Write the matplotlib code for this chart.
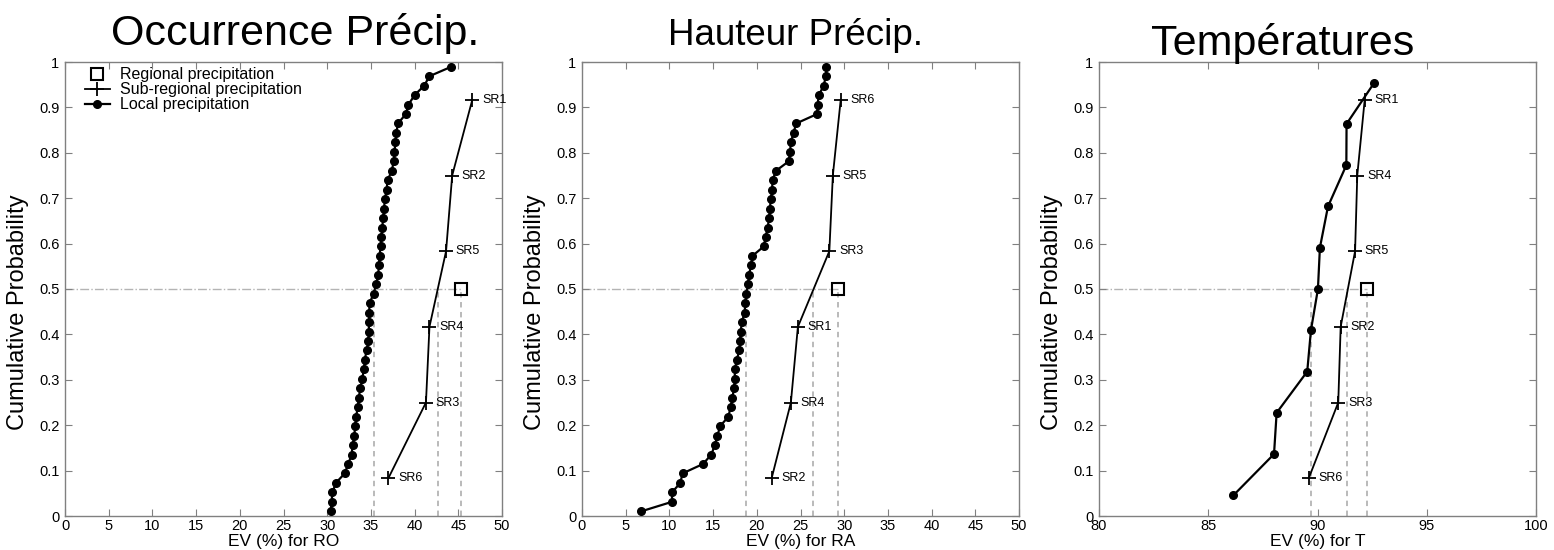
import numpy as np
import matplotlib
matplotlib.use("Agg")
import matplotlib.pyplot as plt

plt.rcParams['font.family'] = ['Liberation Sans', 'DejaVu Sans']

# Occurrence (RO)
ro_local = [30.4, 30.5, 30.6, 31.0, 32.0, 32.4, 32.8, 32.9, 33.1, 33.2, 33.3, 33.5,
            33.6, 33.8, 34.0, 34.2, 34.3, 34.5, 34.7, 34.75, 34.8, 34.8, 34.85, 35.3,
            35.6, 35.85, 35.9, 36.0, 36.1, 36.2, 36.3, 36.4, 36.5, 36.6, 36.8, 36.9,
            37.4, 37.6, 37.7, 37.8, 37.9, 38.1, 39.0, 39.3, 40.0, 41.1, 41.7, 44.2]
ro_sub_names = ["SR6", "SR3", "SR4", "SR5", "SR2", "SR1"]
ro_sub = [37.0, 41.3, 41.7, 43.6, 44.3, 46.6]
ro_regional = 45.35
ro_medians = [35.4, 42.65]

# Hauteur (RA)
ra_local = [6.8, 10.3, 10.3, 11.25, 11.5, 13.85, 14.8, 15.2, 15.5, 15.8, 16.75, 17.0,
            17.2, 17.4, 17.47, 17.5, 17.7, 18.0, 18.08, 18.15, 18.3, 18.6, 18.7, 18.8,
            19.0, 19.1, 19.35, 19.5, 20.8, 21.0, 21.25, 21.4, 21.5, 21.6, 21.75, 21.8,
            22.2, 23.65, 23.8, 23.9, 24.2, 24.5, 26.9, 26.95, 27.1, 27.65, 27.9, 27.95]
ra_sub_names = ["SR2", "SR4", "SR1", "SR3", "SR5", "SR6"]
ra_sub = [21.7, 23.9, 24.7, 28.3, 28.7, 29.6]
ra_regional = 29.25
ra_medians = [18.8, 26.45]

# Temperatures (T)
t_local = [86.15, 88.01, 88.13, 89.53, 89.70, 90.02, 90.11, 90.48, 91.32, 91.33, 92.6]
t_sub_names = ["SR6", "SR3", "SR2", "SR5", "SR4", "SR1"]
t_sub = [89.6, 90.95, 91.06, 91.72, 91.82, 92.16]
t_regional = 92.25
t_medians = [89.7, 91.36]

titles = ["Occurrence Précip.", "Hauteur Précip.", "Températures"]
xlabels = ["EV (%) for RO", "EV (%) for RA", "EV (%) for T"]
yticks = [0, 0.1, 0.2, 0.3, 0.4, 0.5, 0.6, 0.7, 0.8, 0.9, 1]
ytick_labels = ["0", "0.1", "0.2", "0.3", "0.4", "0.5", "0.6", "0.7", "0.8", "0.9", "1"]

frame_col = '#808080'
ref_col = '#b4b4b4'


def cum_prob(values):
    # empirical cumulative probability of the sorted values
    n = len(values)
    return (np.arange(n) + 0.5) / n


def draw_panel(ax, local, names, sub, regional, medians, xlim, xticks, xlabel):
    # reference lines at p = 0.5
    ax.plot([xlim[0], regional], [0.5, 0.5], color=ref_col, lw=1, ls='-.', zorder=1)
    for v in medians + [regional]:
        ax.plot([v, v], [0, 0.5], color=ref_col, lw=1.3, ls=(0, (3, 2.5)), zorder=1)

    ax.plot(regional, 0.5, 's', ms=8, mfc='none', mec='k', mew=1.5, zorder=4,
            label='Regional precipitation')
    p_sub = cum_prob(sub)
    ax.plot(sub, p_sub, '-', color='k', lw=1.3, marker='+', ms=10, mew=1.3, zorder=3,
            label='Sub-regional precipitation')
    ax.plot(local, cum_prob(local), '-', color='k', lw=1.6, marker='o', ms=5.5, zorder=3,
            label='Local precipitation')
    for name, x, p in zip(names, sub, p_sub):
        ax.annotate(name, (x, p), xytext=(7, 0), textcoords='offset points',
                    va='center', ha='left', fontsize=9)

    ax.set_xlim(xlim)
    ax.set_ylim(0, 1)
    ax.set_xticks(xticks)
    ax.set_yticks(yticks)
    ax.set_yticklabels(ytick_labels)
    ax.tick_params(direction='in', top=True, right=True, length=5, width=0.8,
                   color=frame_col, labelsize=10.5)
    ax.tick_params(axis='x', pad=2)
    ax.tick_params(axis='y', pad=4)
    for s in ax.spines.values():
        s.set_color(frame_col)
        s.set_linewidth(1)
    ax.set_xlabel(xlabel, fontsize=12.5)
    ax.xaxis.label.set_va('baseline')
    ax.xaxis.set_label_coords(0.5, -30 / 454)
    ax.set_ylabel('Cumulative Probability', fontsize=17)
    ax.yaxis.set_label_coords(-0.083, 0.45)


fig = plt.figure(figsize=(15.54, 5.5), dpi=100)
W, H = 1554.0, 550.0
lefts = [65, 582, 1099]
axes = [fig.add_axes([l / W, 34 / H, 437 / W, 454 / H]) for l in lefts]

draw_panel(axes[0], ro_local, ro_sub_names, ro_sub, ro_regional, ro_medians,
           (0, 50), range(0, 51, 5), xlabels[0])
draw_panel(axes[1], ra_local, ra_sub_names, ra_sub, ra_regional, ra_medians,
           (0, 50), range(0, 51, 5), xlabels[1])
draw_panel(axes[2], t_local, t_sub_names, t_sub, t_regional, t_medians,
           (80, 100), range(80, 101, 5), xlabels[2])

axes[0].legend(loc='upper left', frameon=False, fontsize=11.5, labelspacing=0,
               handlelength=1.6, handletextpad=0.6, borderpad=0, borderaxespad=0,
               bbox_to_anchor=(0.045, 0.988))

# titles
fig.text(295 / W, 1 - 45 / H, titles[0], fontsize=31, ha='center', va='baseline')
fig.text(795 / W, 1 - 45 / H, titles[1], fontsize=26.5, ha='center', va='baseline')
fig.text(1283 / W, 1 - 55 / H, titles[2], fontsize=31, ha='center', va='baseline')

fig.savefig('out.png', dpi=100)
